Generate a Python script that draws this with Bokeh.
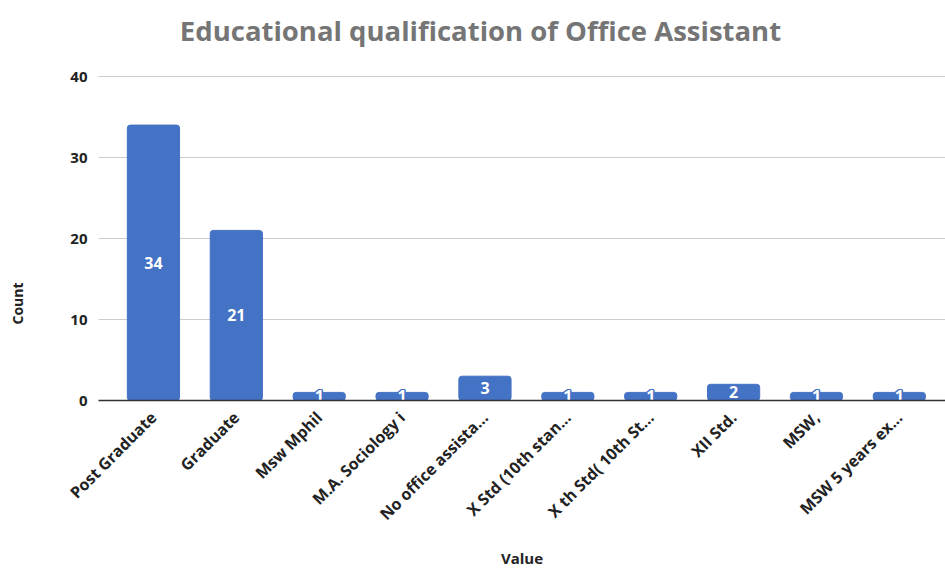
from math import pi
from bokeh.plotting import figure
from bokeh.models import Range1d, FixedTicker, ColumnDataSource, Label
from bokeh.core.properties import value
from bokeh.embed import file_html
from bokeh.resources import INLINE

categories = ["Post Graduate", "Graduate", "Msw Mphil", "M.A. Sociology i",
              "No office assista...", "X Std (10th stan...", "X th Std( 10th St...",
              "XII Std.", "MSW,", "MSW 5 years ex..."]
counts = [34, 21, 1, 1, 3, 1, 1, 2, 1, 1]
y_ticks = [0, 10, 20, 30, 40]
title_text = "Educational qualification of Office Assistant"
y_title = "Count"
x_title = "Value"

BLUE = "#4472C4"
FONT = "Open Sans"

positions = list(range(len(categories)))
src = ColumnDataSource(dict(x=positions, top=counts,
                            mid=[c / 2 for c in counts],
                            label=[str(c) for c in counts]))

# layout (pixels)
W, H = 945, 571
FRAME_L, FRAME_T, FRAME_B = 98, 6, 400
PX_PER_Y = 8.1
X0, X1 = -0.663, 9.557

p = figure(width=W, height=H, output_backend="svg", toolbar_location=None,
           x_range=Range1d(X0, X1),
           y_range=Range1d(0, (FRAME_B - FRAME_T) / PX_PER_Y),
           min_border_left=FRAME_L, min_border_right=0, min_border_top=FRAME_T,
           min_border_bottom=H - FRAME_B)
p.title = None
p.outline_line_color = None
p.background_fill_color = "white"
p.border_fill_color = "white"

p.xgrid.visible = False
p.ygrid.grid_line_color = "#cccccc"
p.ygrid.grid_line_width = 1

yax = p.yaxis[0]
yax.ticker = FixedTicker(ticks=y_ticks)
yax.axis_line_color = None
yax.major_tick_line_color = None
yax.minor_tick_line_color = None
yax.major_label_text_font = FONT
yax.major_label_text_font_size = "15px"
yax.major_label_text_font_style = "bold"
yax.major_label_text_color = "#222222"
yax.major_label_standoff = 5
# non-breaking spaces push the centred label down to where the reference shows it
yax.axis_label = y_title + "\u00a0" * 55
yax.axis_label_text_font = FONT
yax.axis_label_text_font_size = "14px"
yax.axis_label_text_font_style = "bold"
yax.axis_label_text_color = "#222222"
yax.axis_label_standoff = 40

xax = p.xaxis[0]
xax.ticker = FixedTicker(ticks=positions)
xax.major_label_overrides = {i: c for i, c in zip(positions, categories)}
xax.major_label_orientation = pi / 4
xax.major_label_text_font = FONT
xax.major_label_text_font_size = "16px"
xax.major_label_text_font_style = "bold"
xax.major_label_text_color = "#222222"
xax.major_label_standoff = 8
xax.axis_line_color = "#333333"
xax.axis_line_width = 1.5
xax.major_tick_line_color = None
xax.minor_tick_line_color = None
xax.axis_label = x_title
xax.axis_label_text_font = FONT
xax.axis_label_text_font_size = "15px"
xax.axis_label_text_font_style = "bold"
xax.axis_label_text_color = "#222222"
xax.axis_label_standoff = 13

try:
    p.vbar(x="x", top="top", width=0.63, source=src, fill_color=BLUE,
           line_color=BLUE, border_radius=3)
except Exception:
    p.vbar(x="x", top="top", width=0.63, source=src, fill_color=BLUE,
           line_color=BLUE)

for dx, dy in [(-1.5, 0), (1.5, 0), (0, -1.5), (0, 1.5), (-1, -1), (1, -1), (-1, 1), (1, 1)]:
    p.text(x="x", y="mid", text="label", source=src, x_offset=dx, y_offset=dy,
           text_color=BLUE, text_font=value(FONT), text_font_size="16px",
           text_font_style="bold", text_align="center", text_baseline="middle")
p.text(x="x", y="mid", text="label", source=src,
       text_color="white", text_font=value(FONT), text_font_size="16px",
       text_font_style="bold", text_align="center", text_baseline="middle")

# chart title, placed inside the (extended) frame above the 40 gridline
px_per_x = (W - FRAME_L) / (X1 - X0)
title = Label(x=X0 + (480 - FRAME_L) / px_per_x, y=(FRAME_B - 30) / PX_PER_Y,
              text=title_text, text_font=FONT, text_font_size="27.5px",
              text_font_style="bold", text_color="#757575",
              text_align="center", text_baseline="middle")
p.add_layout(title)

open("out.html", "w").write(file_html(p, INLINE))
